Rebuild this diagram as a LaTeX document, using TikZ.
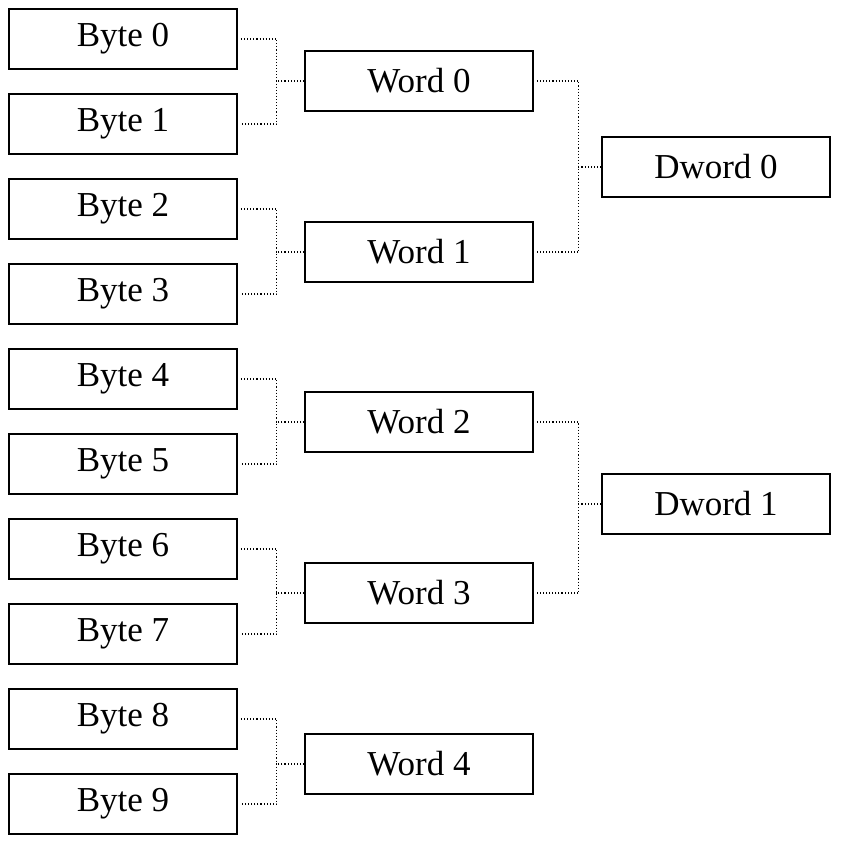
\documentclass[tikz,border=0pt]{standalone}
\usepackage{fontspec}
\setmainfont{Liberation Serif}
\begin{document}
\begin{tikzpicture}[x=1pt,y=-1pt,
  box/.style={draw,line width=1.8pt,minimum width=228pt,minimum height=60pt,inner sep=0pt,font=\fontsize{35}{35}\selectfont},
  conn/.style={draw,line width=1.1pt,dotted}]
\useasboundingbox (0,0) rectangle (844,845);
\foreach \i in {0,...,9}{\node[box] (b\i) at (123,{39+85*\i}) {\raisebox{-3pt}{Byte \i}};}
\foreach \i/\y in {0/81,1/252,2/422,3/593,4/764}{\node[box] (w\i) at (419,\y) {\raisebox{-3pt}{Word \i}};}
\node[box] (d0) at (716,167) {\raisebox{-3pt}{Dword 0}};
\node[box] (d1) at (716,504) {\raisebox{-3pt}{Dword 1}};
\foreach \w/\a/\b in {0/0/1,1/2/3,2/4/5,3/6/7,4/8/9}{
  \draw[conn] ([xshift=3pt]b\a.east) -- ++(36,0) |- ([xshift=3pt]b\b.east);
  \draw[conn] (w\w.west) -- ++(-28,0);
}
\foreach \d/\a/\b in {0/0/1,1/2/3}{
  \draw[conn] ([xshift=3pt]w\a.east) -- ++(42,0) |- ([xshift=3pt]w\b.east);
  \draw[conn] (d\d.west) -- ++(-23,0);
}
\end{tikzpicture}
\end{document}
